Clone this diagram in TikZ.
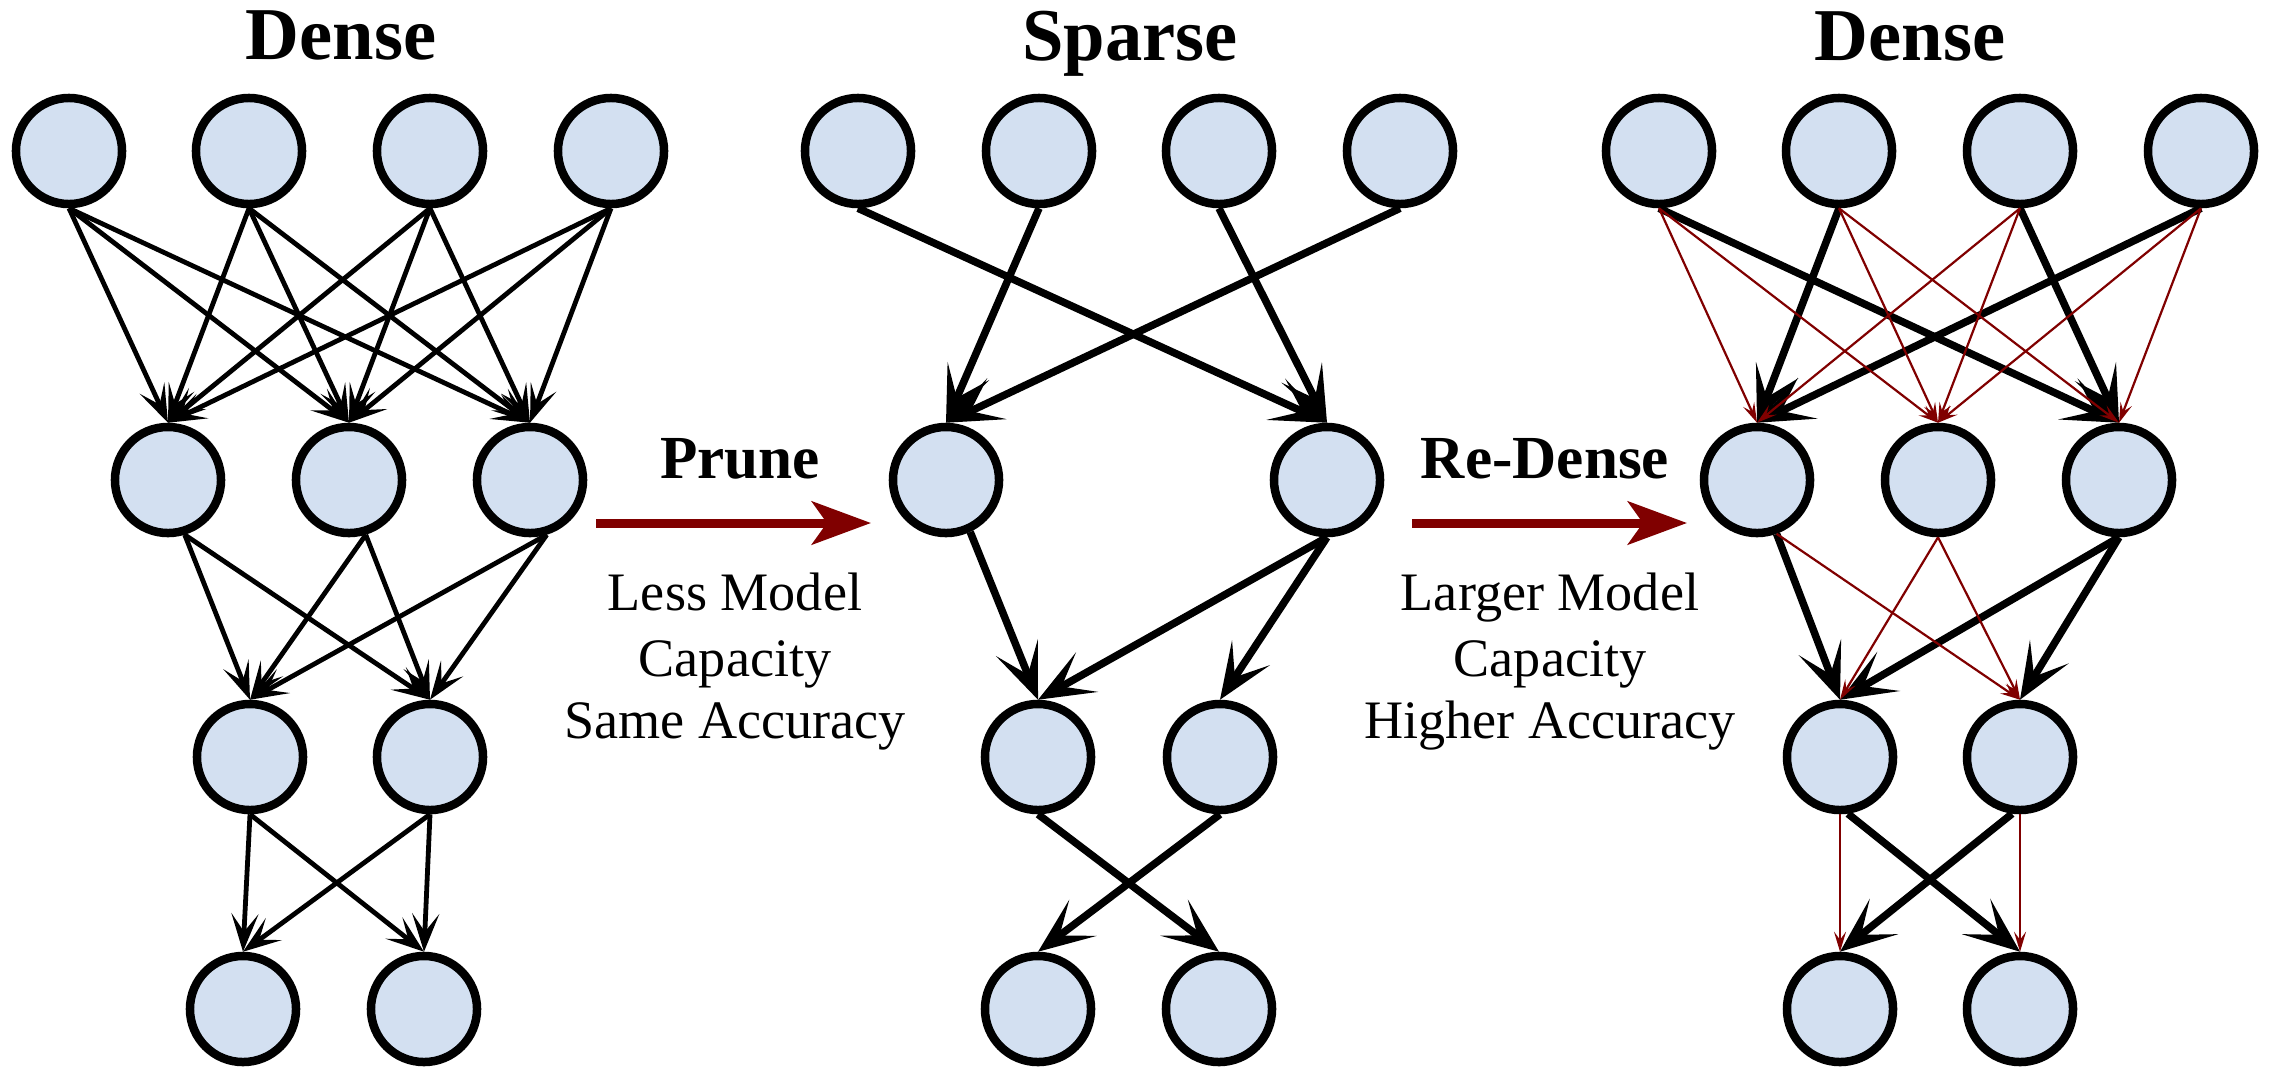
\documentclass[tikz,border=0pt]{standalone}
\usepackage{fontspec}
\setmainfont{Liberation Serif}
\usetikzlibrary{arrows.meta}
\definecolor{nodefill}{RGB}{211,224,241}
\definecolor{darkred}{RGB}{128,0,0}
\begin{document}
\begin{tikzpicture}[x=0.01cm,y=-0.01cm,
 neuron/.style={circle,draw=black,fill=nodefill,line width=0.085cm,minimum size=1.06cm,inner sep=0pt},
 thinedge/.style={draw=black,line width=0.048cm,-{Stealth[length=0.38cm,width=0.27cm,inset=0.18cm]}},
 thickedge/.style={draw=black,line width=0.075cm,-{Stealth[length=0.56cm,width=0.45cm,inset=0.29cm]}},
 rededge/.style={draw=darkred,line width=0.022cm,-{Stealth[length=0.2cm,width=0.12cm,inset=0.08cm]}},
 bigarrow/.style={draw=darkred,line width=0.09cm,-{Stealth[length=0.59cm,width=0.43cm,inset=0.15cm]}},
 title/.style={font=\fontsize{21.2pt}{25pt}\selectfont\bfseries,anchor=base,inner sep=0pt},
 oplabel/.style={font=\fontsize{17.4pt}{21pt}\selectfont\bfseries,anchor=base,inner sep=0pt},
 note/.style={font=\fontsize{15.4pt}{18pt}\selectfont,anchor=base,inner sep=0pt}
]
\useasboundingbox (0,0) rectangle (2270,1075);

% titles
\node[title] (t1) at (341,59) {Dense};
\node[title] (t2) at (1130,60) {Sparse};
\node[title] (t3) at (1910,60) {Dense};

% panel 1
\node[neuron] (A1) at (69,151) {};
\node[neuron] (A2) at (249,151) {};
\node[neuron] (A3) at (430,151) {};
\node[neuron] (A4) at (611,151) {};
\node[neuron] (B1) at (168,480) {};
\node[neuron] (B2) at (349,480) {};
\node[neuron] (B3) at (530,480) {};
\node[neuron] (C1) at (250,757) {};
\node[neuron] (C2) at (430,757) {};
\node[neuron] (D1) at (243,1009) {};
\node[neuron] (D2) at (424,1009) {};

% panel 2
\node[neuron] (sA1) at (858,151) {};
\node[neuron] (sA2) at (1039,151) {};
\node[neuron] (sA3) at (1219,151) {};
\node[neuron] (sA4) at (1400,151) {};
\node[neuron] (sB1) at (946,480) {};
\node[neuron] (sB2) at (1327,480) {};
\node[neuron] (sC1) at (1038,757) {};
\node[neuron] (sC2) at (1220,757) {};
\node[neuron] (sD1) at (1038,1009) {};
\node[neuron] (sD2) at (1219,1009) {};

% panel 3
\node[neuron] (rA1) at (1659,151) {};
\node[neuron] (rA2) at (1839,151) {};
\node[neuron] (rA3) at (2020,151) {};
\node[neuron] (rA4) at (2201,151) {};
\node[neuron] (rB1) at (1757,480) {};
\node[neuron] (rB2) at (1938,480) {};
\node[neuron] (rB3) at (2119,480) {};
\node[neuron] (rC1) at (1840,757) {};
\node[neuron] (rC2) at (2020,757) {};
\node[neuron] (rD1) at (1840,1009) {};
\node[neuron] (rD2) at (2020,1009) {};

% panel 1 edges
\foreach \s in {A1,A2,A3,A4}
  \foreach \t in {B1,B2,B3}
    \draw[thinedge] (\s.south) -- (\t.north);
\foreach \s in {B1,B2,B3}
  \foreach \t in {C1,C2}
    \draw[thinedge] (\s.-73) -- (\t.north);
\foreach \s in {C1,C2}
  \foreach \t in {D1,D2}
    \draw[thinedge] (\s.south) -- (\t.north);

% panel 2 edges
\draw[thickedge] (sA1.south) -- (sB2.north);
\draw[thickedge] (sA2.south) -- (sB1.north);
\draw[thickedge] (sA3.south) -- (sB2.north);
\draw[thickedge] (sA4.south) -- (sB1.north);
\draw[thickedge] (sB1.-65) -- (sC1.north);
\draw[thickedge] (sB2.south) -- (sC1.north);
\draw[thickedge] (sB2.south) -- (sC2.north);
\draw[thickedge] (sC1.south) -- (sD2.north);
\draw[thickedge] (sC2.south) -- (sD1.north);

% panel 3 edges: kept (black)
\draw[thickedge] (rA1.south) -- (rB3.north);
\draw[thickedge] (rA2.south) -- (rB1.north);
\draw[thickedge] (rA3.south) -- (rB3.north);
\draw[thickedge] (rA4.south) -- (rB1.north);
\draw[thickedge] (rB1.-70) -- (rC1.north);
\draw[thickedge] (rB3.south) -- (rC1.north);
\draw[thickedge] (rB3.south) -- (rC2.north);
\draw[thickedge] (rC1.-82) -- (rD2.north);
\draw[thickedge] (rC2.-98) -- (rD1.north);
% panel 3 edges: re-densed (red)
\draw[rededge] (rA1.south) -- (rB1.north);
\draw[rededge] (rA1.south) -- (rB2.north);
\draw[rededge] (rA2.south) -- (rB2.north);
\draw[rededge] (rA2.south) -- (rB3.north);
\draw[rededge] (rA3.south) -- (rB1.north);
\draw[rededge] (rA3.south) -- (rB2.north);
\draw[rededge] (rA4.south) -- (rB2.north);
\draw[rededge] (rA4.south) -- (rB3.north);
\draw[rededge] (rB1.-70) -- (rC2.north);
\draw[rededge] (rB2.south) -- (rC1.north);
\draw[rededge] (rB2.south) -- (rC2.north);
\draw[rededge] (rC1.south) -- (rD1.north);
\draw[rededge] (rC2.south) -- (rD2.north);

% operation arrows
\coordinate (p0) at (596,523);
\coordinate (p1) at (871,523);
\coordinate (q0) at (1412,523);
\coordinate (q1) at (1687,523);
\draw[bigarrow] (p0) -- (p1);
\draw[bigarrow] (q0) -- (q1);

\node[oplabel] (prune) at (740,478) {Prune};
\node[oplabel] (redense) at (1545,478) {Re-Dense};

\node[note] (l1) at (735,610) {Less Model};
\node[note] (l2) at (735,676) {Capacity};
\node[note] (l3) at (735,738) {Same Accuracy};
\node[note] (m1) at (1550,610) {Larger Model};
\node[note] (m2) at (1550,676) {Capacity};
\node[note] (m3) at (1550,738) {Higher Accuracy};
\end{tikzpicture}
\end{document}
